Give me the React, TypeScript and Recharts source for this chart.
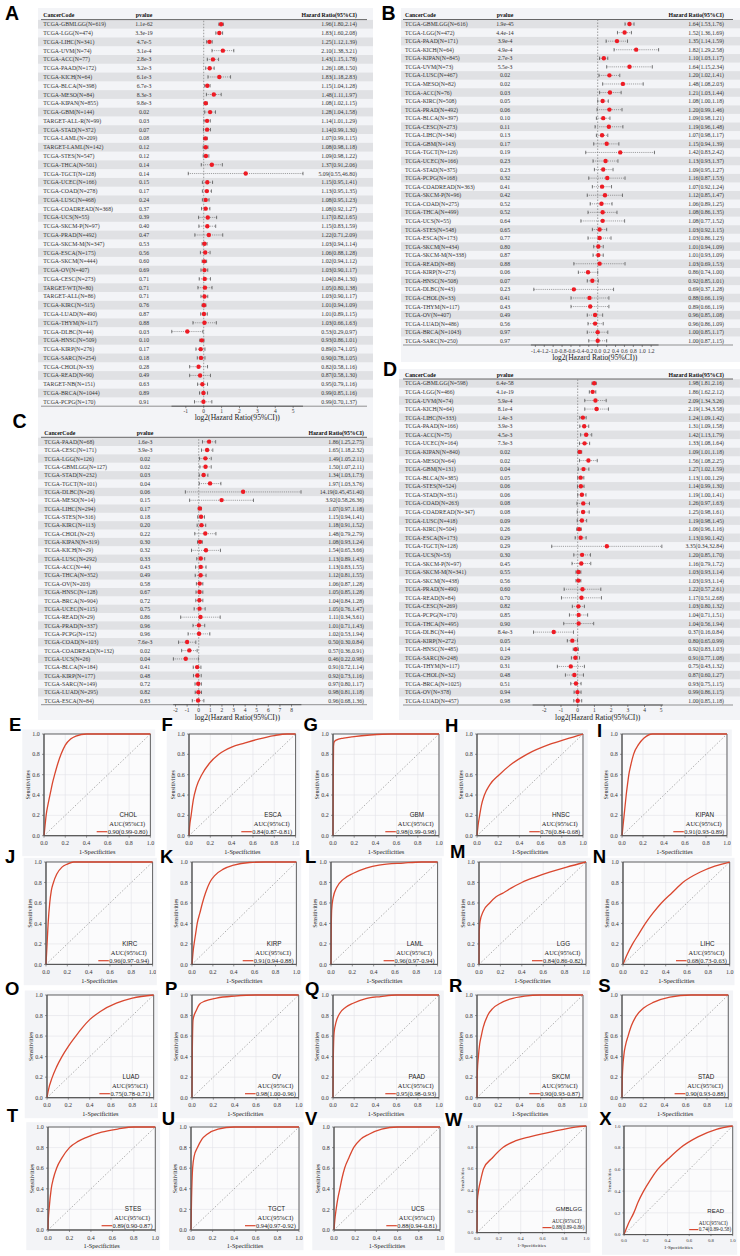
import React from "react";
import {
  Bar,
  CartesianGrid,
  ComposedChart,
  Line,
  LineChart,
  ReferenceArea,
  ReferenceLine,
  XAxis,
  YAxis,
} from "recharts";

const SERIF = "'Liberation Serif', 'Times New Roman', serif";
const SANS = "'Liberation Sans', Arial, sans-serif";
const RED = "#ee1b24";
const ROC_RED = "#d9472f";
const PANEL_BG = "#f3f4f7";

// ---------- panel A ----------
const aCodes = [
  "TCGA-GBMLGG(N=619)", "TCGA-LGG(N=474)", "TCGA-LIHC(N=341)", "TCGA-UVM(N=74)", "TCGA-ACC(N=77)",
  "TCGA-PAAD(N=172)", "TCGA-KICH(N=64)", "TCGA-BLCA(N=398)", "TCGA-MESO(N=84)", "TCGA-KIPAN(N=855)",
  "TCGA-GBM(N=144)", "TARGET-ALL-R(N=99)", "TCGA-STAD(N=372)", "TCGA-LAML(N=209)", "TARGET-LAML(N=142)",
  "TCGA-STES(N=547)", "TCGA-THCA(N=501)", "TCGA-TGCT(N=128)", "TCGA-UCEC(N=166)", "TCGA-COAD(N=278)",
  "TCGA-LUSC(N=468)", "TCGA-COADREAD(N=368)", "TCGA-UCS(N=55)", "TCGA-SKCM-P(N=97)", "TCGA-PRAD(N=492)",
  "TCGA-SKCM-M(N=347)", "TCGA-ESCA(N=175)", "TCGA-SKCM(N=444)", "TCGA-OV(N=407)", "TCGA-CESC(N=273)",
  "TARGET-WT(N=80)", "TARGET-ALL(N=86)", "TCGA-KIRC(N=515)", "TCGA-LUAD(N=490)", "TCGA-THYM(N=117)",
  "TCGA-DLBC(N=44)", "TCGA-HNSC(N=509)", "TCGA-KIRP(N=276)", "TCGA-SARC(N=254)", "TCGA-CHOL(N=33)",
  "TCGA-READ(N=90)", "TARGET-NB(N=151)", "TCGA-BRCA(N=1044)", "TCGA-PCPG(N=170)",
];
const aPvalues = [
  "1.1e-62", "3.3e-19", "4.7e-5", "3.1e-4", "2.8e-3", "3.2e-3", "6.1e-3", "6.7e-3", "8.3e-3", "9.8e-3",
  "0.02", "0.03", "0.07", "0.08", "0.12", "0.12", "0.14", "0.14", "0.15", "0.17",
  "0.24", "0.37", "0.39", "0.40", "0.47", "0.53", "0.56", "0.60", "0.69", "0.71",
  "0.71", "0.71", "0.76", "0.87", "0.88", "0.03", "0.10", "0.17", "0.18", "0.28",
  "0.49", "0.63", "0.89", "0.91",
];
const aHR = [
  1.96, 1.83, 1.25, 2.10, 1.43, 1.26, 1.83, 1.15, 1.48, 1.08,
  1.28, 1.14, 1.14, 1.07, 1.08, 1.09, 1.37, 5.09, 1.15, 1.13,
  1.08, 1.08, 1.17, 1.15, 1.22, 1.03, 1.06, 1.02, 1.03, 1.04,
  1.05, 1.03, 1.01, 1.01, 1.03, 0.53, 0.93, 0.89, 0.90, 0.82,
  0.87, 0.95, 0.99, 0.99,
];
const aLower = [
  1.80, 1.60, 1.12, 1.38, 1.15, 1.08, 1.18, 1.04, 1.11, 1.02,
  1.04, 1.01, 0.99, 0.99, 0.98, 0.98, 0.91, 0.55, 0.95, 0.95,
  0.95, 0.92, 0.82, 0.83, 0.71, 0.94, 0.88, 0.94, 0.90, 0.84,
  0.80, 0.90, 0.94, 0.89, 0.66, 0.29, 0.86, 0.74, 0.78, 0.58,
  0.58, 0.79, 0.85, 0.70,
];
const aUpper = [
  2.14, 2.08, 1.39, 3.21, 1.78, 1.50, 2.83, 1.28, 1.97, 1.15,
  1.58, 1.29, 1.30, 1.15, 1.18, 1.22, 2.06, 46.80, 1.41, 1.35,
  1.23, 1.27, 1.65, 1.59, 2.09, 1.14, 1.28, 1.12, 1.17, 1.30,
  1.38, 1.17, 1.09, 1.15, 1.63, 0.97, 1.01, 1.05, 1.05, 1.16,
  1.30, 1.16, 1.16, 1.37,
];

// ---------- panel B ----------
const bCodes = [
  "TCGA-GBMLGG(N=616)", "TCGA-LGG(N=472)", "TCGA-PAAD(N=171)", "TCGA-KICH(N=64)", "TCGA-KIPAN(N=845)",
  "TCGA-UVM(N=73)", "TCGA-LUSC(N=467)", "TCGA-MESO(N=82)", "TCGA-ACC(N=76)", "TCGA-KIRC(N=508)",
  "TCGA-PRAD(N=492)", "TCGA-BLCA(N=397)", "TCGA-CESC(N=273)", "TCGA-LIHC(N=340)", "TCGA-GBM(N=143)",
  "TCGA-TGCT(N=126)", "TCGA-UCEC(N=166)", "TCGA-STAD(N=375)", "TCGA-PCPG(N=168)", "TCGA-COADREAD(N=363)",
  "TCGA-SKCM-P(N=96)", "TCGA-COAD(N=275)", "TCGA-THCA(N=499)", "TCGA-UCS(N=55)", "TCGA-STES(N=548)",
  "TCGA-ESCA(N=173)", "TCGA-SKCM(N=434)", "TCGA-SKCM-M(N=338)", "TCGA-READ(N=88)", "TCGA-KIRP(N=273)",
  "TCGA-HNSC(N=508)", "TCGA-DLBC(N=43)", "TCGA-CHOL(N=33)", "TCGA-THYM(N=117)", "TCGA-OV(N=407)",
  "TCGA-LUAD(N=486)", "TCGA-BRCA(N=1043)", "TCGA-SARC(N=250)",
];
const bPvalues = [
  "1.9e-45", "4.4e-14", "3.9e-4", "4.9e-4", "2.7e-3", "5.5e-3", "0.02", "0.02", "0.03", "0.05",
  "0.06", "0.10", "0.11", "0.13", "0.17", "0.19", "0.23", "0.23", "0.32", "0.41",
  "0.42", "0.52", "0.52", "0.64", "0.65", "0.77", "0.80", "0.87", "0.88", "0.06",
  "0.07", "0.23", "0.41", "0.43", "0.49", "0.56", "0.97", "0.97",
];
const bHR = [
  1.64, 1.52, 1.35, 1.82, 1.10, 1.64, 1.20, 1.48, 1.21, 1.08,
  1.20, 1.09, 1.19, 1.07, 1.15, 1.42, 1.13, 1.09, 1.16, 1.07,
  1.12, 1.06, 1.08, 1.08, 1.03, 1.03, 1.01, 1.01, 1.03, 0.86,
  0.92, 0.69, 0.88, 0.89, 0.96, 0.96, 1.00, 1.00,
];
const bLower = [
  1.53, 1.36, 1.14, 1.29, 1.03, 1.15, 1.02, 1.08, 1.03, 1.00,
  0.99, 0.98, 0.96, 0.98, 0.94, 0.83, 0.93, 0.95, 0.87, 0.92,
  0.85, 0.89, 0.86, 0.77, 0.92, 0.86, 0.94, 0.93, 0.69, 0.74,
  0.85, 0.37, 0.66, 0.66, 0.85, 0.86, 0.85, 0.87,
];
const bUpper = [
  1.76, 1.69, 1.59, 2.58, 1.17, 2.34, 1.41, 2.03, 1.44, 1.18,
  1.46, 1.21, 1.48, 1.17, 1.39, 2.42, 1.37, 1.27, 1.53, 1.24,
  1.47, 1.25, 1.35, 1.52, 1.15, 1.23, 1.09, 1.09, 1.53, 1.00,
  1.01, 1.28, 1.19, 1.19, 1.08, 1.09, 1.17, 1.15,
];

// ---------- panel C ----------
const cCodes = [
  "TCGA-PAAD(N=68)", "TCGA-CESC(N=171)", "TCGA-LGG(N=126)", "TCGA-GBMLGG(N=127)", "TCGA-STAD(N=232)",
  "TCGA-TGCT(N=101)", "TCGA-DLBC(N=26)", "TCGA-MESO(N=14)", "TCGA-LIHC(N=294)", "TCGA-STES(N=316)",
  "TCGA-KIRC(N=113)", "TCGA-CHOL(N=23)", "TCGA-KIPAN(N=319)", "TCGA-KICH(N=29)", "TCGA-LUSC(N=292)",
  "TCGA-ACC(N=44)", "TCGA-THCA(N=352)", "TCGA-OV(N=203)", "TCGA-HNSC(N=128)", "TCGA-BRCA(N=904)",
  "TCGA-UCEC(N=115)", "TCGA-READ(N=29)", "TCGA-PRAD(N=337)", "TCGA-PCPG(N=152)", "TCGA-COAD(N=103)",
  "TCGA-COADREAD(N=132)", "TCGA-UCS(N=26)", "TCGA-BLCA(N=184)", "TCGA-KIRP(N=177)", "TCGA-SARC(N=149)",
  "TCGA-LUAD(N=295)", "TCGA-ESCA(N=84)",
];
const cPvalues = [
  "1.6e-3", "3.9e-3", "0.02", "0.02", "0.03", "0.04", "0.06", "0.15", "0.17", "0.18",
  "0.20", "0.22", "0.30", "0.32", "0.33", "0.43", "0.49", "0.58", "0.67", "0.72",
  "0.75", "0.86", "0.96", "0.96", "7.6e-3", "0.02", "0.04", "0.41", "0.48", "0.72",
  "0.82", "0.83",
];
const cHR = [
  1.86, 1.65, 1.49, 1.50, 1.34, 1.97, 14.19, 3.92, 1.07, 1.15,
  1.18, 1.48, 1.08, 1.54, 1.13, 1.13, 1.12, 1.06, 1.05, 1.04,
  1.05, 1.11, 1.01, 1.02, 0.50, 0.57, 0.46, 0.91, 0.92, 0.97,
  0.98, 0.96,
];
const cLower = [
  1.25, 1.18, 1.05, 1.07, 1.03, 1.03, 0.45, 0.58, 0.97, 0.94,
  0.91, 0.79, 0.93, 0.65, 0.89, 0.83, 0.81, 0.87, 0.85, 0.84,
  0.76, 0.34, 0.71, 0.53, 0.30, 0.36, 0.22, 0.72, 0.73, 0.80,
  0.81, 0.68,
];
const cUpper = [
  2.75, 2.32, 2.11, 2.11, 1.73, 3.76, 451.40, 26.36, 1.18, 1.41,
  1.52, 2.79, 1.24, 3.66, 1.43, 1.55, 1.55, 1.28, 1.28, 1.28,
  1.47, 3.61, 1.43, 1.94, 0.84, 0.91, 0.98, 1.14, 1.16, 1.17,
  1.18, 1.36,
];

// ---------- panel D ----------
const dCodes = [
  "TCGA-GBMLGG(N=598)", "TCGA-LGG(N=466)", "TCGA-UVM(N=74)", "TCGA-KICH(N=64)", "TCGA-LIHC(N=333)",
  "TCGA-PAAD(N=166)", "TCGA-ACC(N=75)", "TCGA-UCEC(N=164)", "TCGA-KIPAN(N=840)", "TCGA-MESO(N=64)",
  "TCGA-GBM(N=131)", "TCGA-BLCA(N=385)", "TCGA-STES(N=524)", "TCGA-STAD(N=351)", "TCGA-COAD(N=263)",
  "TCGA-COADREAD(N=347)", "TCGA-LUSC(N=418)", "TCGA-KIRC(N=504)", "TCGA-ESCA(N=173)", "TCGA-TGCT(N=128)",
  "TCGA-UCS(N=53)", "TCGA-SKCM-P(N=97)", "TCGA-SKCM-M(N=341)", "TCGA-SKCM(N=438)", "TCGA-PRAD(N=490)",
  "TCGA-READ(N=84)", "TCGA-CESC(N=269)", "TCGA-PCPG(N=170)", "TCGA-THCA(N=495)", "TCGA-DLBC(N=44)",
  "TCGA-KIRP(N=272)", "TCGA-HNSC(N=485)", "TCGA-SARC(N=248)", "TCGA-THYM(N=117)", "TCGA-CHOL(N=32)",
  "TCGA-BRCA(N=1025)", "TCGA-OV(N=378)", "TCGA-LUAD(N=457)",
];
const dPvalues = [
  "6.4e-58", "4.1e-19", "5.9e-4", "8.1e-4", "1.4e-3", "3.9e-3", "4.5e-3", "7.3e-3", "0.02", "0.02",
  "0.04", "0.05", "0.06", "0.06", "0.08", "0.08", "0.09", "0.26", "0.29", "0.29",
  "0.30", "0.45", "0.55", "0.56", "0.60", "0.70", "0.82", "0.85", "0.90", "8.4e-3",
  "0.05", "0.14", "0.29", "0.31", "0.48", "0.51", "0.94", "0.98",
];
const dHR = [
  1.98, 1.86, 2.09, 2.19, 1.24, 1.31, 1.42, 1.33, 1.09, 1.56,
  1.27, 1.13, 1.14, 1.19, 1.26, 1.25, 1.19, 1.06, 1.13, 3.35,
  1.20, 1.16, 1.03, 1.03, 1.22, 1.17, 1.03, 1.04, 1.04, 0.37,
  0.80, 0.92, 0.91, 0.75, 0.87, 0.93, 0.99, 1.00,
];
const dLower = [
  1.81, 1.62, 1.34, 1.34, 1.09, 1.09, 1.13, 1.08, 1.01, 1.08,
  1.02, 1.00, 0.99, 1.00, 0.97, 0.98, 0.98, 0.96, 0.90, 0.34,
  0.85, 0.79, 0.93, 0.93, 0.57, 0.51, 0.80, 0.71, 0.56, 0.16,
  0.65, 0.83, 0.77, 0.43, 0.60, 0.75, 0.86, 0.85,
];
const dUpper = [
  2.16, 2.12, 3.26, 3.58, 1.42, 1.58, 1.79, 1.64, 1.18, 2.25,
  1.59, 1.29, 1.30, 1.41, 1.63, 1.61, 1.45, 1.16, 1.42, 32.84,
  1.70, 1.72, 1.14, 1.14, 2.61, 2.68, 1.32, 1.51, 1.94, 0.84,
  0.99, 1.03, 1.08, 1.32, 1.27, 1.15, 1.15, 1.18,
];

const aTicks = [-1, 0, 1, 2, 3, 4, 5];
const bTicks = [-1.4, -1.2, -1.0, -0.8, -0.6, -0.4, -0.2, 0, 0.2, 0.4, 0.6, 0.8, 1.0, 1.2];
const cTicks = [-2, -1, 0, 1, 2, 3, 4, 5, 6, 7, 8];
const dTicks = [-2, -1, 0, 1, 2, 3, 4, 5];

// ---------- ROC curves: [1-specificity, sensitivity] ----------
const rocCHOL = [[0, 0], [0.01, 0.1], [0.02, 0.2], [0.04, 0.32], [0.06, 0.42], [0.08, 0.52], [0.1, 0.6], [0.13, 0.71], [0.16, 0.8], [0.2, 0.89], [0.25, 0.95], [0.3, 0.98], [0.4, 1], [1, 1]];
const rocESCA = [[0, 0], [0.005, 0.08], [0.02, 0.2], [0.04, 0.35], [0.07, 0.48], [0.12, 0.6], [0.19, 0.71], [0.28, 0.8], [0.4, 0.87], [0.52, 0.91], [0.65, 0.95], [0.8, 0.985], [0.92, 1], [1, 1]];
const rocGBM = [[0, 0], [0.002, 0.5], [0.005, 0.88], [0.01, 0.92], [0.03, 0.94], [0.1, 0.96], [0.2, 0.975], [0.35, 0.99], [0.55, 1], [1, 1]];
const rocHNSC = [[0, 0], [0.01, 0.1], [0.025, 0.2], [0.042, 0.3], [0.07, 0.4], [0.12, 0.5], [0.21, 0.6], [0.32, 0.7], [0.47, 0.8], [0.69, 0.9], [0.84, 0.95], [1, 1]];
const rocKIPAN = [[0, 0], [0.01, 0.1], [0.02, 0.2], [0.03, 0.3], [0.04, 0.4], [0.052, 0.5], [0.065, 0.6], [0.085, 0.7], [0.11, 0.8], [0.16, 0.9], [0.21, 0.96], [0.29, 1], [1, 1]];
const rocKIRC = [[0, 0], [0.005, 0.1], [0.01, 0.2], [0.02, 0.4], [0.035, 0.6], [0.05, 0.72], [0.07, 0.8], [0.1, 0.88], [0.15, 0.95], [0.2, 0.98], [0.26, 1], [1, 1]];
const rocKIRP = [[0, 0], [0.01, 0.12], [0.02, 0.2], [0.035, 0.3], [0.05, 0.4], [0.075, 0.5], [0.1, 0.6], [0.13, 0.7], [0.17, 0.8], [0.22, 0.87], [0.3, 0.93], [0.4, 0.97], [0.55, 0.995], [0.7, 1], [1, 1]];
const rocLAML = [[0, 0], [0.002, 0.3], [0.006, 0.53], [0.02, 0.65], [0.053, 0.75], [0.115, 0.83], [0.21, 0.89], [0.33, 0.94], [0.45, 0.97], [0.68, 0.99], [0.85, 1], [1, 1]];
const rocLGG = [[0, 0], [0.002, 0.3], [0.01, 0.42], [0.04, 0.52], [0.1, 0.6], [0.16, 0.66], [0.23, 0.7], [0.3, 0.745], [0.4, 0.8], [0.52, 0.85], [0.66, 0.9], [0.82, 0.95], [1, 1]];
const rocLIHC = [[0, 0], [0.04, 0.1], [0.09, 0.2], [0.15, 0.3], [0.21, 0.4], [0.28, 0.5], [0.36, 0.6], [0.46, 0.7], [0.56, 0.8], [0.72, 0.9], [0.86, 0.96], [1, 1]];
const rocLUAD = [[0, 0], [0.01, 0.06], [0.05, 0.2], [0.09, 0.3], [0.14, 0.4], [0.2, 0.5], [0.27, 0.6], [0.33, 0.68], [0.4, 0.76], [0.5, 0.84], [0.65, 0.92], [0.8, 0.97], [1, 1]];
const rocOV = [[0, 0], [0.003, 0.45], [0.01, 0.76], [0.04, 0.85], [0.07, 0.91], [0.12, 0.94], [0.23, 0.97], [0.4, 0.99], [0.6, 1], [1, 1]];
const rocPAAD = [[0, 0], [0.003, 0.4], [0.01, 0.63], [0.03, 0.74], [0.063, 0.82], [0.12, 0.88], [0.19, 0.92], [0.31, 0.965], [0.45, 0.985], [0.6, 1], [1, 1]];
const rocSKCM = [[0, 0], [0.003, 0.25], [0.013, 0.4], [0.025, 0.52], [0.04, 0.6], [0.057, 0.68], [0.1, 0.8], [0.15, 0.87], [0.22, 0.92], [0.31, 0.96], [0.45, 0.99], [0.6, 1], [1, 1]];
const rocSTAD = [[0, 0], [0.003, 0.2], [0.016, 0.4], [0.035, 0.52], [0.057, 0.6], [0.088, 0.7], [0.13, 0.79], [0.2, 0.87], [0.3, 0.93], [0.45, 0.98], [0.65, 1], [1, 1]];
const rocSTES = [[0, 0], [0.003, 0.1], [0.01, 0.2], [0.03, 0.4], [0.05, 0.5], [0.08, 0.6], [0.13, 0.7], [0.2, 0.8], [0.28, 0.86], [0.36, 0.9], [0.5, 0.95], [0.65, 0.98], [0.8, 1], [1, 1]];
const rocTGCT = [[0, 0], [0.005, 0.3], [0.015, 0.6], [0.03, 0.72], [0.06, 0.8], [0.1, 0.88], [0.15, 0.93], [0.25, 0.98], [0.4, 1], [1, 1]];
const rocUCS = [[0, 0], [0.008, 0.1], [0.02, 0.2], [0.035, 0.3], [0.055, 0.4], [0.075, 0.5], [0.1, 0.6], [0.14, 0.7], [0.185, 0.8], [0.25, 0.88], [0.33, 0.93], [0.45, 0.98], [0.6, 1], [1, 1]];
const rocGMBLGG = [[0, 0], [0.003, 0.3], [0.015, 0.4], [0.035, 0.5], [0.06, 0.6], [0.14, 0.7], [0.24, 0.8], [0.35, 0.86], [0.49, 0.9], [0.7, 0.95], [0.9, 0.99], [1, 1]];
const rocREAD = [[0, 0], [0.04, 0.1], [0.09, 0.2], [0.13, 0.3], [0.18, 0.4], [0.24, 0.5], [0.31, 0.6], [0.41, 0.7], [0.52, 0.8], [0.68, 0.9], [0.85, 0.97], [1, 1]];

const rocLetters = ["E", "F", "G", "H", "I", "J", "K", "L", "M", "N", "O", "P", "Q", "R", "S", "T", "U", "V", "W", "X"];
const rocNames = ["CHOL", "ESCA", "GBM", "HNSC", "KIPAN", "KIRC", "KIRP", "LAML", "LGG", "LIHC", "LUAD", "OV", "PAAD", "SKCM", "STAD", "STES", "TGCT", "UCS", "GMBLGG", "READ"];
const rocAUC = [
  "0.90(0.99-0.80)", "0.84(0.87-0.81)", "0.98(0.99-0.98)", "0.76(0.84-0.68)", "0.91(0.93-0.89)",
  "0.96(0.97-0.94)", "0.91(0.94-0.88)", "0.96(0.97-0.94)", "0.84(0.86-0.82)", "0.68(0.73-0.63)",
  "0.75(0.78-0.71)", "0.98(1.00-0.96)", "0.95(0.98-0.93)", "0.90(0.93-0.87)", "0.90(0.93-0.88)",
  "0.89(0.90-0.87)", "0.94(0.97-0.92)", "0.88(0.94-0.81)", "0.88(0.89-0.86)", "0.74(0.89-0.58)",
];
const rocCurves = [rocCHOL, rocESCA, rocGBM, rocHNSC, rocKIPAN, rocKIRC, rocKIRP, rocLAML, rocLGG, rocLIHC, rocLUAD, rocOV, rocPAAD, rocSKCM, rocSTAD, rocSTES, rocTGCT, rocUCS, rocGMBLGG, rocREAD];

// layout: plot box [left, top, width, height] and letter [x, baseline]
const rocBoxes = [
  [44.3, 734, 106.4, 101.7], [188.7, 734, 106.6, 101.7], [333.3, 734, 106, 101.7], [477.3, 734, 106, 101.7], [622.3, 734, 105, 101.7],
  [45.7, 862.3, 106.6, 102.4], [192.3, 862.3, 104.4, 102.4], [331, 862.3, 106.6, 102.4], [479, 862.3, 107, 102.4], [623.3, 862.3, 106.7, 102.4],
  [46.7, 995, 106.7, 102.7], [192.3, 995, 106.7, 102.7], [333.3, 995, 106, 102.7], [477.3, 995, 106, 102.7], [622.3, 995, 106.3, 102.7],
  [48.3, 1126.7, 107.3, 103], [191, 1126.7, 108, 103], [334.3, 1126.7, 106, 103], [476.7, 1125.7, 109.3, 106.6], [624, 1125.7, 108.7, 108.6],
];
const rocLetterPos = [
  [9, 730.7], [161.5, 730.7], [303.5, 731], [445, 731.7], [597, 737],
  [5, 863.3], [160, 863.3], [305, 863.3], [450, 858.3], [592.7, 863.3],
  [5, 995], [165, 995], [305, 995], [449, 991.7], [598.3, 991.7],
  [6.7, 1122.3], [161.7, 1125], [305, 1125], [445, 1126], [599.3, 1125],
];
const UNIT_TICKS = [0, 0.2, 0.4, 0.6, 0.8, 1.0];

const forestPanels = [
  {
    letter: "A", letterX: 5, letterBase: 20,
    codes: aCodes, pvalues: aPvalues, hr: aHR, lower: aLower, upper: aUpper,
    ticks: aTicks, digits: 0, domain: [-1.8, 5.55],
    chartLeft: 0, chartTop: 0, chartW: 373,
    plotTop: 19.9, plotBottom: 406.2, plotLeft: 171.5, plotRight: 303,
    tickCenter: 410.7, titleBase: 420.4,
    labelX: 43.3, pvX: 144, hrX: 357, headerY: 15.3, headerLineY: 19.6,
    tableX0: 41, tableX1: 367, stripeX0: 38, stripeX1: 373, bg: [38, 8, 335, 417],
  },
  {
    letter: "B", letterX: 381.5, letterBase: 20,
    codes: bCodes, pvalues: bPvalues, hr: bHR, lower: bLower, upper: bUpper,
    ticks: bTicks, digits: 1, domain: [-1.5, 1.3],
    chartLeft: 370, chartTop: 0, chartW: 370,
    plotTop: 19.7, plotBottom: 345, plotLeft: 530.9, plotRight: 658.6,
    tickCenter: 350.7, titleBase: 360.4,
    labelX: 405, pvX: 505, hrX: 724, headerY: 15.3, headerLineY: 19.5,
    tableX0: 403, tableX1: 733, stripeX0: 401, stripeX1: 740, bg: [401, 8, 339, 354],
  },
  {
    letter: "C", letterX: 12.5, letterBase: 427.5,
    codes: cCodes, pvalues: cPvalues, hr: cHR, lower: cLower, upper: cUpper,
    ticks: cTicks, digits: 0, domain: [-2.2, 8.85],
    chartLeft: 0, chartTop: 425, chartW: 373,
    plotTop: 437.5, plotBottom: 704.7, plotLeft: 173.2, plotRight: 301.4,
    tickCenter: 710, titleBase: 719.7,
    labelX: 44.3, pvX: 145, hrX: 364, headerY: 433.3, headerLineY: 437.3,
    tableX0: 41, tableX1: 367, stripeX0: 38, stripeX1: 373, bg: [38, 425, 335, 295],
  },
  {
    letter: "D", letterX: 383, letterBase: 376,
    codes: dCodes, pvalues: dPvalues, hr: dHR, lower: dLower, upper: dUpper,
    ticks: dTicks, digits: 0, domain: [-2.7, 5.1],
    chartLeft: 370, chartTop: 365, chartW: 370,
    plotTop: 379, plotBottom: 705, plotLeft: 532.6, plotRight: 662.9,
    tickCenter: 710.3, titleBase: 719.7,
    labelX: 405, pvX: 505, hrX: 724, headerY: 375, headerLineY: 379,
    tableX0: 403, tableX1: 733, stripeX0: 399, stripeX1: 740, bg: [399, 369, 341, 351],
  },
];

const ROW_FS = 5.8;
const TICK_FS = 5.5;

function buildRows(f: any) {
  return f.codes.map((code: string, i: number) => ({
    code,
    p: f.pvalues[i],
    est: Math.log2(f.hr[i]),
    ci: [Math.log2(f.lower[i]), Math.log2(f.upper[i])],
    text: `${f.hr[i].toFixed(2)}(${f.lower[i].toFixed(2)},${f.upper[i].toFixed(2)})`,
  }));
}

// one table row: stripe, texts and the dotted CI whisker (x/width come from the bar scale)
function makeRowShape(f: any, rowH: number) {
  const ox = f.chartLeft;
  return (props: any) => {
    const { x, y, width, height, payload, index } = props;
    if (x == null || y == null || !payload) return <g />;
    const cy = y + height / 2;
    const x0 = Math.min(x, x + width);
    const x1 = Math.max(x, x + width);
    return (
      <g>
        {index % 2 === 0 && (
          <rect x={f.stripeX0 - ox} y={cy - rowH / 2} width={f.stripeX1 - f.stripeX0} height={rowH} fill="#000" fillOpacity={0.075} />
        )}
        <text x={f.labelX - ox} y={cy} dy="0.35em" fontSize={ROW_FS} fill="#333">{payload.code}</text>
        <text x={f.pvX - ox} y={cy} dy="0.35em" fontSize={ROW_FS} fill="#333" textAnchor="middle">{payload.p}</text>
        <text x={f.hrX - ox} y={cy} dy="0.35em" fontSize={ROW_FS} fill="#333" textAnchor="end">{payload.text}</text>
        <line x1={x0} x2={x1} y1={cy} y2={cy} stroke="#555" strokeWidth={0.6} strokeDasharray="0.9 1" />
        <line x1={x0} x2={x0} y1={cy - 1.7} y2={cy + 1.7} stroke="#444" strokeWidth={0.7} />
        <line x1={x1} x2={x1} y1={cy - 1.7} y2={cy + 1.7} stroke="#444" strokeWidth={0.7} />
      </g>
    );
  };
}

function ForestChart({ f }: { f: any }) {
  const rows = buildRows(f);
  const rowH = (f.plotBottom - f.plotTop) / rows.length;
  const xh = f.titleBase - f.plotBottom + 2;
  const height = f.plotBottom + xh - f.chartTop;
  const tickSize = 2;
  const tickMargin = f.tickCenter - 0.355 * TICK_FS - f.plotBottom - tickSize;
  const rowShape = makeRowShape(f, rowH);

  return (
    <div style={{ position: "absolute", left: f.chartLeft, top: f.chartTop }}>
      <ComposedChart
        layout="vertical"
        width={f.chartW}
        height={height}
        data={rows}
        margin={{ top: f.plotTop - f.chartTop, right: f.chartLeft + f.chartW - f.plotRight, bottom: 0, left: f.plotLeft - f.chartLeft }}
      >
        <XAxis
          type="number"
          domain={f.domain}
          ticks={f.ticks}
          interval={0}
          tickFormatter={(v: number) => v.toFixed(f.digits)}
          tickSize={tickSize}
          tickMargin={tickMargin}
          tick={{ fontSize: TICK_FS, fill: "#333" }}
          axisLine={{ stroke: "#444", strokeWidth: 0.8 }}
          tickLine={{ stroke: "#444", strokeWidth: 0.6 }}
          height={xh}
          label={{ value: "log2(Hazard Ratio(95%CI))", position: "insideBottom", offset: 2, fontSize: 7.6, fill: "#222" }}
        />
        <YAxis type="category" dataKey="code" hide />
        <ReferenceLine x={0} stroke="#777" strokeWidth={0.7} strokeDasharray="1.5 1.5" />
        <Bar dataKey="ci" shape={rowShape} isAnimationActive={false} />
        <Line
          dataKey="est"
          stroke="none"
          dot={{ r: 2.2, fill: RED, stroke: "none" }}
          activeDot={false}
          isAnimationActive={false}
        />
      </ComposedChart>
    </div>
  );
}

function RocChart({ i }: { i: number }) {
  const [left, top, w, h] = rocBoxes[i];
  const small = i >= 18;
  const ml = 40;
  const mt = 4;
  const mr = 4;
  const xh = small ? 17 : 20;
  const fs = small ? 4.8 : 6;
  const tfs = small ? 5 : 6.3;
  const data = rocCurves[i].map(([fpr, sens]) => ({ fpr, sens }));
  return (
    <div style={{ position: "absolute", left: left - ml, top: top - mt }}>
      <LineChart width={ml + w + mr} height={mt + h + xh} data={data} margin={{ top: mt, right: mr, bottom: 0, left: 0 }}>
        <CartesianGrid stroke="#e2e3e8" strokeWidth={0.6} fill="#fbfbfc" />
        <XAxis
          type="number"
          dataKey="fpr"
          domain={[0, 1]}
          ticks={UNIT_TICKS}
          interval={0}
          tickFormatter={(v: number) => v.toFixed(1)}
          height={xh}
          tickSize={small ? 1.5 : 2}
          tickMargin={small ? 2.8 : 3.5}
          tick={{ fontSize: fs, fill: "#333" }}
          axisLine={{ stroke: "#555" }}
          tickLine={{ stroke: "#555", strokeWidth: 0.6 }}
          label={{ value: "1-Specificities", position: "insideBottom", offset: small ? 2.1 : 1.8, fontSize: tfs, fill: "#222" }}
        />
        <YAxis
          type="number"
          domain={[0, 1]}
          ticks={UNIT_TICKS}
          interval={0}
          tickFormatter={(v: number) => v.toFixed(1)}
          width={ml}
          tickSize={small ? 1.5 : 2}
          tickMargin={small ? 2 : 2.3}
          tick={{ fontSize: fs, fill: "#333" }}
          axisLine={{ stroke: "#555" }}
          tickLine={{ stroke: "#555", strokeWidth: 0.6 }}
          label={{
            value: "Sensitivities",
            angle: -90,
            position: "insideLeft",
            offset: small ? 25 : 24,
            fontSize: small ? 4.8 : 6,
            fill: "#222",
            style: { textAnchor: "middle" },
          }}
        />
        <ReferenceLine segment={[{ x: 0, y: 0 }, { x: 1, y: 1 }]} stroke="#999" strokeWidth={0.8} strokeDasharray="1.5 1.8" />
        <ReferenceArea x1={0} x2={1} y1={0} y2={1} fill="none" stroke="#555" strokeWidth={0.9} />
        <Line type="monotone" dataKey="sens" stroke={ROC_RED} strokeWidth={1.3} dot={false} activeDot={false} isAnimationActive={false} />
      </LineChart>
    </div>
  );
}

export default function App() {
  return (
    <div
      style={{
        position: "absolute",
        left: 0,
        top: 0,
        width: 740,
        height: 1256,
        background: "#fff",
        fontFamily: SERIF,
        overflow: "hidden",
      }}
    >
      {/* backgrounds, table headers and rules */}
      <svg width={740} height={1256} style={{ position: "absolute", left: 0, top: 0 }}>
        {forestPanels.map((f) => (
          <g key={"bg" + f.letter}>
            <rect x={f.bg[0]} y={f.bg[1]} width={f.bg[2]} height={f.bg[3]} fill={PANEL_BG} />
            <text x={f.labelX} y={f.headerY + 2} fontSize={ROW_FS} fontWeight="bold" fill="#111">CancerCode</text>
            <text x={f.pvX} y={f.headerY + 2} fontSize={ROW_FS} fontWeight="bold" fill="#111" textAnchor="middle">pvalue</text>
            <text x={f.hrX} y={f.headerY + 2} fontSize={ROW_FS} fontWeight="bold" fill="#111" textAnchor="end">Hazard Ratio(95%CI)</text>
            <line x1={f.tableX0} x2={f.tableX1} y1={f.headerLineY} y2={f.headerLineY} stroke="#444" strokeWidth={0.8} />
            <line x1={f.tableX0} x2={f.tableX1} y1={f.plotBottom} y2={f.plotBottom} stroke="#666" strokeWidth={0.7} />
          </g>
        ))}
        {rocBoxes.map(([l, t, w, h], i) => (
          <rect key={"rbg" + i} x={l - 22} y={t - 4.5} width={w + 26.5} height={h + 25} fill={PANEL_BG} />
        ))}
      </svg>

      {forestPanels.map((f) => (
        <ForestChart key={f.letter} f={f} />
      ))}
      {rocBoxes.map((_, i) => (
        <RocChart key={rocLetters[i]} i={i} />
      ))}

      {/* panel letters and ROC legends */}
      <svg width={740} height={1256} style={{ position: "absolute", left: 0, top: 0, pointerEvents: "none" }}>
        {forestPanels.map((f) => (
          <text key={"L" + f.letter} x={f.letterX} y={f.letterBase} fontFamily={SANS} fontWeight="bold" fontSize={19.5} fill="#000">
            {f.letter}
          </text>
        ))}
        {rocLetters.map((l, i) => (
          <text key={"L" + l} x={rocLetterPos[i][0]} y={rocLetterPos[i][1]} fontFamily={SANS} fontWeight="bold" fontSize={18.5} fill="#000">
            {l}
          </text>
        ))}
        {rocBoxes.map(([l, t, w, h], i) => {
          const R = l + w;
          const B = t + h;
          const small = i >= 18;
          const fsz = small ? 5.2 : 6.4;
          return (
            <g key={"lg" + i}>
              <text x={small ? R - 17 : R - 22.5} y={small ? B - 21.2 : B - 19.2} fontFamily={SANS} fontSize={small ? 6 : 6.3} fill="#222" textAnchor="middle">
                {rocNames[i]}
              </text>
              <text x={small ? R - 19.5 : R - 23.5} y={small ? B - 8.9 : B - 9.5} fontSize={fsz} fill="#222" textAnchor="middle">
                AUC(95%CI)
              </text>
              <line x1={small ? R - 43.5 : R - 54} x2={small ? R - 34.5 : R - 43.5} y1={small ? B - 4.7 : B - 4} y2={small ? B - 4.7 : B - 4} stroke={ROC_RED} strokeWidth={1.2} />
              <text x={small ? R - 34 : R - 43} y={small ? B - 2.9 : B - 1.8} fontSize={fsz} fill="#222">
                {rocAUC[i]}
              </text>
            </g>
          );
        })}
      </svg>
    </div>
  );
}
